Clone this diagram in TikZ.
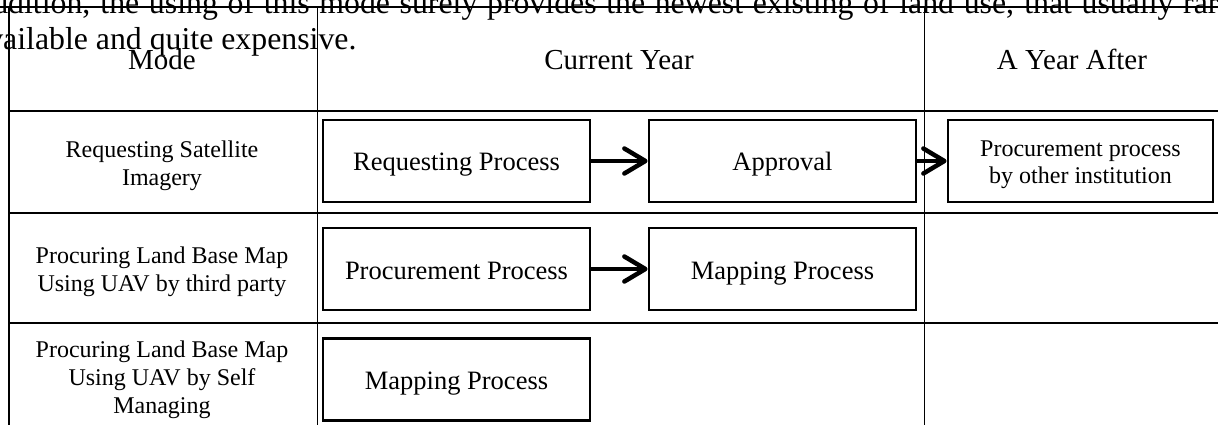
\documentclass[tikz,border=0pt]{standalone}
\usepackage{fontspec}
\setmainfont{Liberation Serif}
\usetikzlibrary{arrows.meta}

\begin{document}
\begin{tikzpicture}[x=1pt,y=-1pt,
  gridline/.style={line width=1.8pt},
  basebox/.style={draw, line width=2.8pt, minimum height=82pt, inner sep=0pt},
  procbox/.style={basebox, minimum width=267pt,
    font=\fontsize{26.5}{30}\selectfont, text height=22pt, text depth=2pt},
  modetext/.style={align=center, inner sep=0pt, font=\fontsize{24}{28}\selectfont},
  headtext/.style={anchor=base, inner sep=0pt, font=\fontsize{29}{34}\selectfont},
  bodytext/.style={anchor=base west, inner sep=0pt, font=\fontsize{31.8}{36.5}\selectfont},
  flow/.style={line width=4.5pt, -{Straight Barb[length=21pt,width=25pt,round]}},
]
\useasboundingbox (0,0) rectangle (1218,425);
\begin{scope}
\clip (0,0) rectangle (1218,425);

% running text of the page behind the table
\node[bodytext] (para1) at (-22,13.3)
  {\makebox[1279pt][s]{addition, the using of this mode surely provides the newest existing of land use, that usually rarely}};
\node[bodytext] (para2) at (-27,49.5) {available and quite expensive.};

% table rules
\draw[gridline] (0,7) -- (1218,7);
\draw[gridline] (9,7) -- (9,425);
\draw[gridline] (317.5,7) -- (317.5,425);
\draw[gridline] (924.5,7) -- (924.5,425);
\draw[gridline] (9,111) -- (1218,111);
\draw[gridline] (9,213) -- (1218,213);
\draw[gridline] (9,323) -- (1218,323);

% header row
\node[headtext] (hmode) at (162,70) {Mode};
\node[headtext] (hcur) at (619,70) {Current Year};
\node[headtext] (hafter) at (1072,70) {A Year After};

% mode column
\node[modetext] (m1) at (162,165.4) {Requesting Satellite\\Imagery};
\node[modetext] (m2) at (162,271.9) {Procuring Land Base Map\\Using UAV by third party};
\node[modetext] (m3) at (162,379.9) {Procuring Land Base Map\\Using UAV by Self\\Managing};

% process boxes
\node[procbox] (req) at (456.5,161) {Requesting Process};
\node[procbox] (appr) at (782.5,161) {Approval};
\node[basebox, minimum width=265pt] (other) at (1080.5,161) {};
\node[align=center, inner sep=0pt, font=\fontsize{24}{26.6}\selectfont]
  (othertext) at (1080.5,165) {Procurement process\\by other institution};
\node[procbox] (proc) at (456.5,269) {Procurement Process};
\node[procbox] (map2) at (782.5,269) {Mapping Process};
\node[procbox] (map3) at (456.5,379.5) {Mapping Process};

% flow arrows
\draw[flow] (req) -- (appr);
\draw[flow] (appr) -- (other);
\draw[flow] (proc) -- (map2);
\end{scope}
\end{tikzpicture}
\end{document}
